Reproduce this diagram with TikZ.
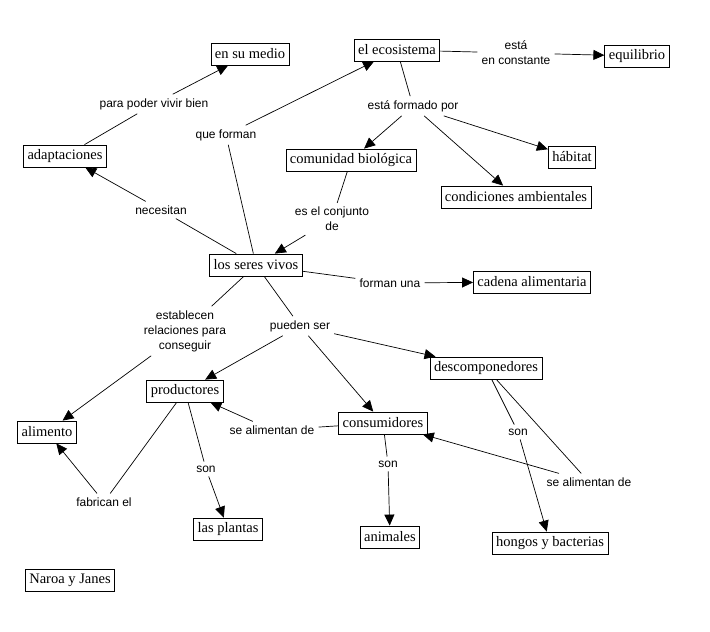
\documentclass[tikz,border=0pt]{standalone}
\usepackage{fontspec}
\setmainfont{Liberation Serif}
\setsansfont{Liberation Sans}
\usetikzlibrary{arrows.meta}
\tikzset{
  concept/.style={draw, line width=0.8pt, font=\fontsize{14.5}{16}\selectfont, inner xsep=4pt, inner ysep=0pt, minimum height=22pt},
  link/.style={font=\sffamily\fontsize{12}{15}\selectfont, align=center, inner sep=4pt},
  conn/.style={line width=0.7pt},
  arr/.style={conn, -{Triangle[length=11pt,width=10pt]}}
}
\begin{document}
\begin{tikzpicture}[x=1pt,y=-1pt]
\useasboundingbox (0,0) rectangle (710,632);
% conceptos
\node[concept] (medio) at (250,54) {en su medio};
\node[concept] (eco) at (397,50) {el ecosistema};
\node[concept] (equil) at (637,56) {equilibrio};
\node[concept] (adapt) at (65,156) {adaptaciones};
\node[concept] (comun) at (351,160) {comunidad biológica};
\node[concept] (habitat) at (572,157) {hábitat};
\node[concept] (condic) at (516,197) {condiciones ambientales};
\node[concept] (seres) at (256,265) {los seres vivos};
\node[concept] (cadena) at (532,282) {cadena alimentaria};
\node[concept] (descomp) at (486,368) {descomponedores};
\node[concept] (produc) at (185,391) {productores};
\node[concept] (consum) at (383,423) {consumidores};
\node[concept] (alim) at (47,432) {alimento};
\node[concept] (plantas) at (228,529) {las plantas};
\node[concept] (animales) at (390,537) {animales};
\node[concept] (hongos) at (550,543) {hongos y bacterias};
\node[concept] (autores) at (70,580) {Naroa y Janes};
% enlaces
\node[link] (lvivir) at (154,104) {para poder vivir bien};
\node[link] (lforman) at (226,135) {que forman};
\node[link] (lnecesitan) at (161,210) {necesitan};
\node[link] (lconjunto) at (332,219) {es el conjunto\\de};
\node[link] (lconstante) at (516,53) {está\\en constante};
\node[link] (lformado) at (413,106) {está formado por};
\node[link] (lcadena) at (390,283) {forman una};
\node[link] (lconseguir) at (185,331) {establecen\\relaciones para\\conseguir};
\node[link] (lpueden) at (300,326) {pueden ser};
\node[link] (lalimprod) at (272,430) {se alimentan de};
\node[link] (lsonpl) at (206,469) {son};
\node[link] (lfabrican) at (104,502) {fabrican el};
\node[link] (lsonan) at (388,464) {son};
\node[link] (lsonhb) at (518,432) {son};
\node[link] (lalimcons) at (589,482) {se alimentan de};
% lineas
\draw[conn] (adapt) -- (lvivir);
\draw[arr] (lvivir) -- (medio);
\draw[conn] (seres) -- (lforman);
\draw[arr] (lforman) -- (eco);
\draw[conn] (seres) -- (lnecesitan);
\draw[arr] (lnecesitan) -- (adapt);
\draw[conn] (comun) -- (lconjunto);
\draw[arr] (lconjunto) -- (seres);
\draw[conn] (eco) -- (lconstante);
\draw[arr] (lconstante) -- (equil);
\draw[conn] (eco) -- (lformado);
\draw[arr] (lformado) -- (comun);
\draw[arr] (lformado) -- (condic);
\draw[arr] (lformado) -- (habitat);
\draw[conn] (seres) -- (lcadena);
\draw[arr] (lcadena) -- (cadena);
\draw[conn] (seres) -- (lconseguir);
\draw[arr] (lconseguir) -- (alim);
\draw[conn] (seres) -- (lpueden);
\draw[arr] (lpueden) -- (produc);
\draw[arr] (lpueden) -- (consum);
\draw[arr] (lpueden) -- (descomp);
\draw[conn] (consum) -- (lalimprod);
\draw[arr] (lalimprod) -- (produc);
\draw[conn] (produc) -- (lsonpl);
\draw[arr] (lsonpl) -- (plantas);
\draw[conn] (produc) -- (lfabrican);
\draw[arr] (lfabrican) -- (alim);
\draw[conn] (consum) -- (lsonan);
\draw[arr] (lsonan) -- (animales);
\draw[conn] (descomp) -- (lsonhb);
\draw[arr] (lsonhb) -- (hongos);
\draw[conn] (descomp) -- (lalimcons);
\draw[arr] (lalimcons) -- (consum);
\end{tikzpicture}
\end{document}
